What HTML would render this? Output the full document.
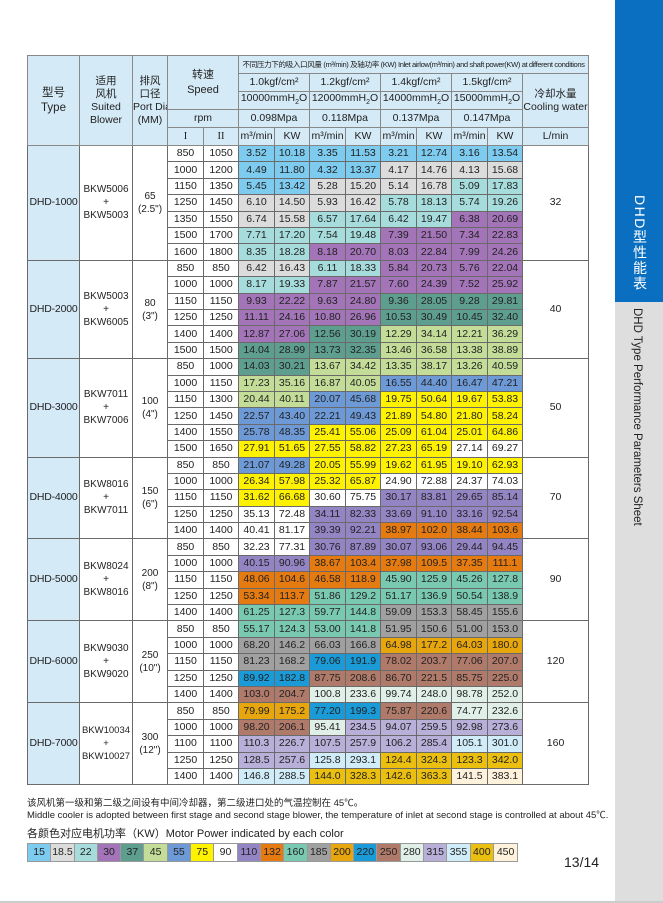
<!DOCTYPE html>
<html><head><meta charset="utf-8">
<style>
*{margin:0;padding:0;box-sizing:border-box}
body{width:663px;height:903px;background:#fff;position:relative;overflow:hidden;font-family:"Liberation Sans","Noto Sans CJK SC",sans-serif;color:#222}
#tab1{position:absolute;left:615px;top:0;width:48px;height:302px;background:#0a6fc0}
#tab2{position:absolute;left:615px;top:302px;width:48px;height:601px;background:#dedede}
.vt{position:absolute;writing-mode:vertical-rl;}
table{position:absolute;left:27px;top:55px;border-collapse:collapse;table-layout:fixed;width:561px}
td{border:1px solid #6a6a6a;text-align:center;font-size:10.5px;padding:0;line-height:13px;white-space:nowrap;overflow:hidden}
.h td{background:#d5eaf7;border-color:#888}
.h td.cap{font-size:7.6px;letter-spacing:-0.4px}
tr.dr{height:16.4px}
td.ty{background:#d5eaf7;font-size:10.5px;letter-spacing:-0.2px}
td.bl{font-size:10px;line-height:13px}
.a{background:#7ecbf0}.b{background:#dcdcdc}.c{background:#a6dcdc}.d{background:#a374b8}.e{background:#5e9e8e}.f{background:#c3dd98}.g{background:#6d9ad6}.y{background:#fff200}.w{background:#fff}.i{background:#9385c3}.j{background:#e57b10}.k{background:#79c9b1}.l{background:#a0a0a0}.m{background:#e7a50e}.n{background:#1a9ad7}.o{background:#b07a6a}.p{background:#e0f0e8}.q{background:#b8b0d8}.r{background:#d0ecf8}.s{background:#ebbf10}.t{background:#fff2dc}
.txt{position:absolute;left:27px;font-size:10px;white-space:nowrap}
#leg{position:absolute;left:27px;top:843px;display:flex;border:1px solid #999}
#leg div{width:23.3px;height:17px;font-size:10.5px;line-height:17px;text-align:center;border-right:1px solid #999}
</style></head><body>
<div id="tab1"></div><div id="tab2"></div>
<div class="vt" style="left:630px;top:195px;color:#fff;font-size:14px;letter-spacing:1.5px">DHD型性能表</div>
<div class="vt" style="left:631px;top:308px;color:#222;font-size:11.5px">DHD Type Performance Parameters Sheet</div>
<table>
<colgroup><col style="width:52px"><col style="width:53px"><col style="width:35px"><col style="width:36px"><col style="width:35px"><col style="width:36px"><col style="width:35px"><col style="width:36px"><col style="width:35px"><col style="width:36px"><col style="width:35px"><col style="width:36px"><col style="width:35px"><col style="width:66px"></colgroup>
<tr class="h" style="height:18px"><td rowspan="5" style="font-size:11.5px;line-height:15px">型号<br>Type</td><td rowspan="5" style="line-height:13px">适用<br>风机<br>Suited<br>Blower</td><td rowspan="5" style="line-height:13px">排风<br>口径<br>Port Dia<br>(MM)</td><td colspan="2" rowspan="3" style="font-size:11px;line-height:15px">转速<br>Speed</td><td colspan="9" class="cap">不同压力下的吸入口风量 (m³/min) 及轴功率 (KW) Inlet airlow(m³/min) and shaft power(KW) at different conditions</td></tr>
<tr class="h" style="height:18px"><td colspan="2">1.0kgf/cm²</td><td colspan="2">1.2kgf/cm²</td><td colspan="2">1.4kgf/cm²</td><td colspan="2">1.5kgf/cm²</td><td rowspan="3" style="line-height:13px">冷却水量<br>Cooling water</td></tr>
<tr class="h" style="height:17px"><td colspan="2">10000mmH<sub style="font-size:7px">2</sub>O</td><td colspan="2">12000mmH<sub style="font-size:7px">2</sub>O</td><td colspan="2">14000mmH<sub style="font-size:7px">2</sub>O</td><td colspan="2">15000mmH<sub style="font-size:7px">2</sub>O</td></tr>
<tr class="h" style="height:18px"><td colspan="2">rpm</td><td colspan="2">0.098Mpa</td><td colspan="2">0.118Mpa</td><td colspan="2">0.137Mpa</td><td colspan="2">0.147Mpa</td></tr>
<tr class="h" style="height:18px"><td style="font-family:'Liberation Serif',serif">I</td><td style="font-family:'Liberation Serif',serif">II</td><td>m³/min</td><td>KW</td><td>m³/min</td><td>KW</td><td>m³/min</td><td>KW</td><td>m³/min</td><td>KW</td><td>L/min</td></tr>

<tr class="dr"><td rowspan="7" class="ty">DHD-1000</td><td rowspan="7" class="bl">BKW5006<br>+<br>BKW5003</td><td rowspan="7" class="bl">65<br>(2.5")</td><td>850</td><td>1050</td><td class="a">3.52</td><td class="a">10.18</td><td class="a">3.35</td><td class="a">11.53</td><td class="a">3.21</td><td class="a">12.74</td><td class="a">3.16</td><td class="a">13.54</td><td rowspan="7">32</td></tr>
<tr class="dr"><td>1000</td><td>1200</td><td class="a">4.49</td><td class="a">11.80</td><td class="a">4.32</td><td class="a">13.37</td><td class="b">4.17</td><td class="b">14.76</td><td class="b">4.13</td><td class="b">15.68</td></tr>
<tr class="dr"><td>1150</td><td>1350</td><td class="a">5.45</td><td class="a">13.42</td><td class="b">5.28</td><td class="b">15.20</td><td class="b">5.14</td><td class="b">16.78</td><td class="c">5.09</td><td class="c">17.83</td></tr>
<tr class="dr"><td>1250</td><td>1450</td><td class="b">6.10</td><td class="b">14.50</td><td class="b">5.93</td><td class="b">16.42</td><td class="c">5.78</td><td class="c">18.13</td><td class="c">5.74</td><td class="c">19.26</td></tr>
<tr class="dr"><td>1350</td><td>1550</td><td class="b">6.74</td><td class="b">15.58</td><td class="c">6.57</td><td class="c">17.64</td><td class="c">6.42</td><td class="c">19.47</td><td class="d">6.38</td><td class="d">20.69</td></tr>
<tr class="dr"><td>1500</td><td>1700</td><td class="c">7.71</td><td class="c">17.20</td><td class="c">7.54</td><td class="c">19.48</td><td class="d">7.39</td><td class="d">21.50</td><td class="d">7.34</td><td class="d">22.83</td></tr>
<tr class="dr"><td>1600</td><td>1800</td><td class="c">8.35</td><td class="c">18.28</td><td class="d">8.18</td><td class="d">20.70</td><td class="d">8.03</td><td class="d">22.84</td><td class="d">7.99</td><td class="d">24.26</td></tr>

<tr class="dr"><td rowspan="6" class="ty">DHD-2000</td><td rowspan="6" class="bl">BKW5003<br>+<br>BKW6005</td><td rowspan="6" class="bl">80<br>(3")</td><td>850</td><td>850</td><td class="b">6.42</td><td class="b">16.43</td><td class="c">6.11</td><td class="c">18.33</td><td class="d">5.84</td><td class="d">20.73</td><td class="d">5.76</td><td class="d">22.04</td><td rowspan="6">40</td></tr>
<tr class="dr"><td>1000</td><td>1000</td><td class="c">8.17</td><td class="c">19.33</td><td class="d">7.87</td><td class="d">21.57</td><td class="d">7.60</td><td class="d">24.39</td><td class="d">7.52</td><td class="d">25.92</td></tr>
<tr class="dr"><td>1150</td><td>1150</td><td class="d">9.93</td><td class="d">22.22</td><td class="d">9.63</td><td class="d">24.80</td><td class="e">9.36</td><td class="e">28.05</td><td class="e">9.28</td><td class="e">29.81</td></tr>
<tr class="dr"><td>1250</td><td>1250</td><td class="d">11.11</td><td class="d">24.16</td><td class="d">10.80</td><td class="d">26.96</td><td class="e">10.53</td><td class="e">30.49</td><td class="e">10.45</td><td class="e">32.40</td></tr>
<tr class="dr"><td>1400</td><td>1400</td><td class="d">12.87</td><td class="d">27.06</td><td class="e">12.56</td><td class="e">30.19</td><td class="f">12.29</td><td class="f">34.14</td><td class="f">12.21</td><td class="f">36.29</td></tr>
<tr class="dr"><td>1500</td><td>1500</td><td class="e">14.04</td><td class="e">28.99</td><td class="e">13.73</td><td class="e">32.35</td><td class="f">13.46</td><td class="f">36.58</td><td class="f">13.38</td><td class="f">38.89</td></tr>

<tr class="dr"><td rowspan="6" class="ty">DHD-3000</td><td rowspan="6" class="bl">BKW7011<br>+<br>BKW7006</td><td rowspan="6" class="bl">100<br>(4")</td><td>850</td><td>1000</td><td class="e">14.03</td><td class="e">30.21</td><td class="f">13.67</td><td class="f">34.42</td><td class="f">13.35</td><td class="f">38.17</td><td class="f">13.26</td><td class="f">40.59</td><td rowspan="6">50</td></tr>
<tr class="dr"><td>1000</td><td>1150</td><td class="f">17.23</td><td class="f">35.16</td><td class="f">16.87</td><td class="f">40.05</td><td class="g">16.55</td><td class="g">44.40</td><td class="g">16.47</td><td class="g">47.21</td></tr>
<tr class="dr"><td>1150</td><td>1300</td><td class="f">20.44</td><td class="f">40.11</td><td class="g">20.07</td><td class="g">45.68</td><td class="y">19.75</td><td class="y">50.64</td><td class="y">19.67</td><td class="y">53.83</td></tr>
<tr class="dr"><td>1250</td><td>1450</td><td class="g">22.57</td><td class="g">43.40</td><td class="g">22.21</td><td class="g">49.43</td><td class="y">21.89</td><td class="y">54.80</td><td class="y">21.80</td><td class="y">58.24</td></tr>
<tr class="dr"><td>1400</td><td>1550</td><td class="g">25.78</td><td class="g">48.35</td><td class="y">25.41</td><td class="y">55.06</td><td class="y">25.09</td><td class="y">61.04</td><td class="y">25.01</td><td class="y">64.86</td></tr>
<tr class="dr"><td>1500</td><td>1650</td><td class="y">27.91</td><td class="y">51.65</td><td class="y">27.55</td><td class="y">58.82</td><td class="y">27.23</td><td class="y">65.19</td><td class="w">27.14</td><td class="w">69.27</td></tr>

<tr class="dr"><td rowspan="5" class="ty">DHD-4000</td><td rowspan="5" class="bl">BKW8016<br>+<br>BKW7011</td><td rowspan="5" class="bl">150<br>(6")</td><td>850</td><td>850</td><td class="g">21.07</td><td class="g">49.28</td><td class="y">20.05</td><td class="y">55.99</td><td class="y">19.62</td><td class="y">61.95</td><td class="y">19.10</td><td class="y">62.93</td><td rowspan="5">70</td></tr>
<tr class="dr"><td>1000</td><td>1000</td><td class="y">26.34</td><td class="y">57.98</td><td class="y">25.32</td><td class="y">65.87</td><td class="w">24.90</td><td class="w">72.88</td><td class="w">24.37</td><td class="w">74.03</td></tr>
<tr class="dr"><td>1150</td><td>1150</td><td class="y">31.62</td><td class="y">66.68</td><td class="w">30.60</td><td class="w">75.75</td><td class="i">30.17</td><td class="i">83.81</td><td class="i">29.65</td><td class="i">85.14</td></tr>
<tr class="dr"><td>1250</td><td>1250</td><td class="w">35.13</td><td class="w">72.48</td><td class="i">34.11</td><td class="i">82.33</td><td class="i">33.69</td><td class="i">91.10</td><td class="i">33.16</td><td class="i">92.54</td></tr>
<tr class="dr"><td>1400</td><td>1400</td><td class="w">40.41</td><td class="w">81.17</td><td class="i">39.39</td><td class="i">92.21</td><td class="j">38.97</td><td class="j">102.0</td><td class="j">38.44</td><td class="j">103.6</td></tr>

<tr class="dr"><td rowspan="5" class="ty">DHD-5000</td><td rowspan="5" class="bl">BKW8024<br>+<br>BKW8016</td><td rowspan="5" class="bl">200<br>(8")</td><td>850</td><td>850</td><td class="w">32.23</td><td class="w">77.31</td><td class="i">30.76</td><td class="i">87.89</td><td class="i">30.07</td><td class="i">93.06</td><td class="i">29.44</td><td class="i">94.45</td><td rowspan="5">90</td></tr>
<tr class="dr"><td>1000</td><td>1000</td><td class="i">40.15</td><td class="i">90.96</td><td class="j">38.67</td><td class="j">103.4</td><td class="j">37.98</td><td class="j">109.5</td><td class="j">37.35</td><td class="j">111.1</td></tr>
<tr class="dr"><td>1150</td><td>1150</td><td class="j">48.06</td><td class="j">104.6</td><td class="j">46.58</td><td class="j">118.9</td><td class="k">45.90</td><td class="k">125.9</td><td class="k">45.26</td><td class="k">127.8</td></tr>
<tr class="dr"><td>1250</td><td>1250</td><td class="j">53.34</td><td class="j">113.7</td><td class="k">51.86</td><td class="k">129.2</td><td class="k">51.17</td><td class="k">136.9</td><td class="k">50.54</td><td class="k">138.9</td></tr>
<tr class="dr"><td>1400</td><td>1400</td><td class="k">61.25</td><td class="k">127.3</td><td class="k">59.77</td><td class="k">144.8</td><td class="l">59.09</td><td class="l">153.3</td><td class="l">58.45</td><td class="l">155.6</td></tr>

<tr class="dr"><td rowspan="5" class="ty">DHD-6000</td><td rowspan="5" class="bl">BKW9030<br>+<br>BKW9020</td><td rowspan="5" class="bl">250<br>(10")</td><td>850</td><td>850</td><td class="k">55.17</td><td class="k">124.3</td><td class="k">53.00</td><td class="k">141.8</td><td class="l">51.95</td><td class="l">150.6</td><td class="l">51.00</td><td class="l">153.0</td><td rowspan="5">120</td></tr>
<tr class="dr"><td>1000</td><td>1000</td><td class="l">68.20</td><td class="l">146.2</td><td class="l">66.03</td><td class="l">166.8</td><td class="m">64.98</td><td class="m">177.2</td><td class="m">64.03</td><td class="m">180.0</td></tr>
<tr class="dr"><td>1150</td><td>1150</td><td class="l">81.23</td><td class="l">168.2</td><td class="n">79.06</td><td class="n">191.9</td><td class="o">78.02</td><td class="o">203.7</td><td class="o">77.06</td><td class="o">207.0</td></tr>
<tr class="dr"><td>1250</td><td>1250</td><td class="n">89.92</td><td class="n">182.8</td><td class="o">87.75</td><td class="o">208.6</td><td class="o">86.70</td><td class="o">221.5</td><td class="o">85.75</td><td class="o">225.0</td></tr>
<tr class="dr"><td>1400</td><td>1400</td><td class="o">103.0</td><td class="o">204.7</td><td class="p">100.8</td><td class="p">233.6</td><td class="p">99.74</td><td class="p">248.0</td><td class="p">98.78</td><td class="p">252.0</td></tr>

<tr class="dr"><td rowspan="5" class="ty">DHD-7000</td><td rowspan="5" class="bl" style="font-size:9.5px">BKW10034<br>+<br>BKW10027</td><td rowspan="5" class="bl">300<br>(12")</td><td>850</td><td>850</td><td class="m">79.99</td><td class="m">175.2</td><td class="n">77.20</td><td class="n">199.3</td><td class="o">75.87</td><td class="o">220.6</td><td class="p">74.77</td><td class="p">232.6</td><td rowspan="5">160</td></tr>
<tr class="dr"><td>1000</td><td>1000</td><td class="o">98.20</td><td class="o">206.1</td><td class="p">95.41</td><td class="q">234.5</td><td class="q">94.07</td><td class="q">259.5</td><td class="q">92.98</td><td class="q">273.6</td></tr>
<tr class="dr"><td>1100</td><td>1100</td><td class="q">110.3</td><td class="q">226.7</td><td class="q">107.5</td><td class="q">257.9</td><td class="q">106.2</td><td class="q">285.4</td><td class="r">105.1</td><td class="r">301.0</td></tr>
<tr class="dr"><td>1250</td><td>1250</td><td class="q">128.5</td><td class="q">257.6</td><td class="r">125.8</td><td class="r">293.1</td><td class="s">124.4</td><td class="s">324.3</td><td class="s">123.3</td><td class="s">342.0</td></tr>
<tr class="dr"><td>1400</td><td>1400</td><td class="r">146.8</td><td class="r">288.5</td><td class="s">144.0</td><td class="s">328.3</td><td class="s">142.6</td><td class="s">363.3</td><td class="t">141.5</td><td class="t">383.1</td></tr>
</table>
<div class="txt" style="top:795px;font-size:9.5px">该风机第一级和第二级之间设有中间冷却器，第二级进口处的气温控制在 45℃。</div>
<div class="txt" style="top:807px;font-size:9.5px">Middle cooler is adopted between first stage and second stage blower, the temperature of inlet at second stage is controlled at about 45℃.</div>
<div class="txt" style="top:825px;font-size:11px">各颜色对应电机功率（KW）Motor Power indicated by each color</div>
<div id="leg"><div class="a">15</div><div class="b">18.5</div><div class="c">22</div><div class="d">30</div><div class="e">37</div><div class="f">45</div><div class="g">55</div><div class="y">75</div><div class="w">90</div><div class="i">110</div><div class="j">132</div><div class="k">160</div><div class="l">185</div><div class="m">200</div><div class="n">220</div><div class="o">250</div><div class="p">280</div><div class="q">315</div><div class="r">355</div><div class="s">400</div><div class="t" style="border-right:none">450</div></div>
<div style="position:absolute;left:564px;top:854px;font-size:14px">13/14</div>
<div style="position:absolute;left:0;top:901px;width:663px;height:2px;background:#ccc"></div>
</body></html>
